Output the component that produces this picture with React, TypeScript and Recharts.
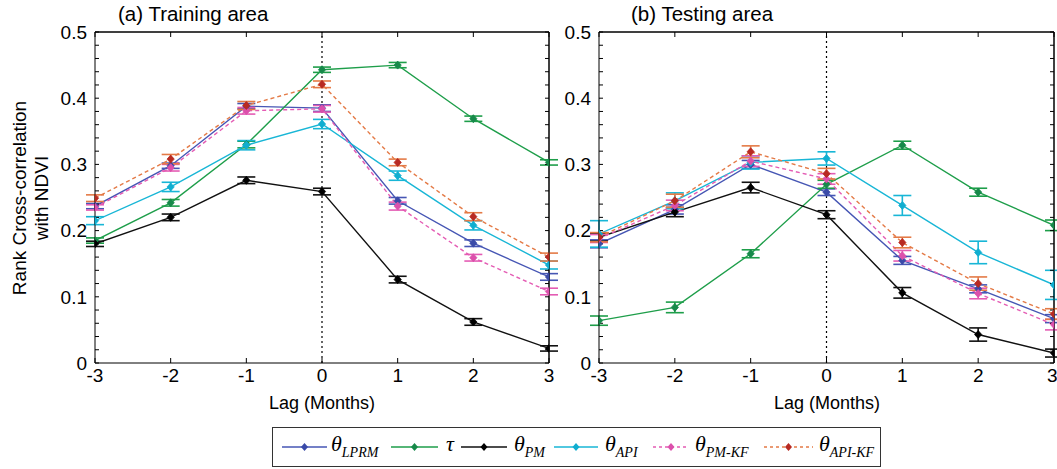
import React from "react";
import { LineChart, Line, XAxis, YAxis, ErrorBar, ReferenceLine } from "recharts";

const lags = [-3, -2, -1, 0, 1, 2, 3];
const yMajor = [0, 0.1, 0.2, 0.3, 0.4, 0.5];
const yTicks = Array.from({ length: 26 }, (_, i) => Math.round(i * 2) / 100);

// (a) Training area
const trainLPRM = [0.237, 0.298, 0.388, 0.385, 0.245, 0.181, 0.13];
const trainTau = [0.185, 0.242, 0.33, 0.443, 0.45, 0.369, 0.303];
const trainPM = [0.18, 0.22, 0.276, 0.259, 0.126, 0.062, 0.022];
const trainAPI = [0.215, 0.266, 0.329, 0.361, 0.283, 0.208, 0.148];
const trainPMKF = [0.235, 0.295, 0.381, 0.384, 0.237, 0.159, 0.108];
const trainAPIKF = [0.249, 0.308, 0.389, 0.421, 0.303, 0.221, 0.16];

const trainLPRMErr = [0.004, 0.004, 0.004, 0.005, 0.005, 0.005, 0.005];
const trainTauErr = [0.004, 0.005, 0.005, 0.004, 0.004, 0.004, 0.004];
const trainPMErr = [0.004, 0.005, 0.005, 0.005, 0.005, 0.005, 0.004];
const trainAPIErr = [0.006, 0.007, 0.007, 0.007, 0.007, 0.007, 0.006];
const trainPMKFErr = [0.004, 0.005, 0.005, 0.005, 0.006, 0.005, 0.005];
const trainAPIKFErr = [0.005, 0.007, 0.006, 0.005, 0.005, 0.006, 0.006];

// (b) Testing area
const testLPRM = [0.18, 0.232, 0.3, 0.258, 0.155, 0.112, 0.067];
const testTau = [0.064, 0.084, 0.165, 0.27, 0.329, 0.258, 0.208];
const testPM = [0.19, 0.228, 0.265, 0.224, 0.106, 0.043, 0.015];
const testAPI = [0.195, 0.245, 0.303, 0.309, 0.238, 0.167, 0.118];
const testPMKF = [0.188, 0.238, 0.305, 0.278, 0.162, 0.105, 0.058];
const testAPIKF = [0.19, 0.245, 0.319, 0.286, 0.182, 0.12, 0.074];

const testLPRMErr = [0.006, 0.007, 0.006, 0.005, 0.006, 0.006, 0.006];
const testTauErr = [0.007, 0.008, 0.006, 0.006, 0.006, 0.006, 0.008];
const testPMErr = [0.006, 0.007, 0.008, 0.006, 0.008, 0.01, 0.006];
const testAPIErr = [0.02, 0.012, 0.01, 0.01, 0.015, 0.017, 0.022];
const testPMKFErr = [0.006, 0.008, 0.008, 0.008, 0.008, 0.008, 0.008];
const testAPIKFErr = [0.007, 0.01, 0.009, 0.008, 0.008, 0.01, 0.008];

const SERIES = [
  { key: "lprm", sym: "θ", sub: "LPRM", color: "#4656b4", marker: "#3a4aa8", dash: undefined },
  { key: "tau", sym: "τ", sub: "", color: "#1e9e4a", marker: "#17894a", dash: undefined },
  { key: "pm", sym: "θ", sub: "PM", color: "#111111", marker: "#000000", dash: undefined },
  { key: "api", sym: "θ", sub: "API", color: "#18b6d6", marker: "#10aed0", dash: undefined },
  { key: "pmkf", sym: "θ", sub: "PM-KF", color: "#e45cb4", marker: "#dc50ac", dash: "4 3" },
  { key: "apikf", sym: "θ", sub: "API-KF", color: "#e47a46", marker: "#b82a22", dash: "4 3" },
];

// legend placement inside the box: [line start, line length, label start]
const LEGEND_POS = [
  [9, 45, 58],
  [118, 47, 173],
  [188, 46, 241],
  [281, 44, 332],
  [380, 36, 422],
  [491, 49, 546],
];

function buildRows(vals: Record<string, number[]>, errs: Record<string, number[]>) {
  return lags.map((lag, i) => {
    const row: any = { lag };
    for (const k of Object.keys(vals)) {
      row[k] = vals[k][i];
      row[k + "Err"] = errs[k][i];
    }
    return row;
  });
}

const trainRows = buildRows(
  { lprm: trainLPRM, tau: trainTau, pm: trainPM, api: trainAPI, pmkf: trainPMKF, apikf: trainAPIKF },
  { lprm: trainLPRMErr, tau: trainTauErr, pm: trainPMErr, api: trainAPIErr, pmkf: trainPMKFErr, apikf: trainAPIKFErr }
);
const testRows = buildRows(
  { lprm: testLPRM, tau: testTau, pm: testPM, api: testAPI, pmkf: testPMKF, apikf: testAPIKF },
  { lprm: testLPRMErr, tau: testTauErr, pm: testPMErr, api: testAPIErr, pmkf: testPMKFErr, apikf: testAPIKFErr }
);

const FONT = "'Liberation Sans', Arial, sans-serif";

const fmtY = (v: number) => {
  const hit = yMajor.find((m) => Math.abs(m - v) < 1e-6);
  return hit === undefined ? "" : String(hit);
};

const diamond = (color: string) => (p: any) => {
  const { cx, cy, index } = p;
  if (cx == null || cy == null) return <g key={`e-${index}`} />;
  return (
    <path
      key={`d-${index}`}
      d={`M${cx},${cy - 4}L${cx + 3.6},${cy}L${cx},${cy + 4}L${cx - 3.6},${cy}Z`}
      fill={color}
      stroke={color}
      strokeWidth={0.8}
    />
  );
};

function Panel({ rows, left, width, yWidth, right }: any) {
  return (
    <div style={{ position: "absolute", left, top: 0 }}>
      <LineChart width={width} height={420} data={rows} margin={{ top: 31, right, bottom: 0, left: 0 }}>
        <XAxis
          xAxisId="b"
          dataKey="lag"
          type="number"
          domain={[-3, 3]}
          ticks={lags}
          allowDataOverflow
          height={57}
          tickSize={-5}
          tickMargin={11}
          tick={{ fill: "#000", fontSize: 19 }}
          axisLine={{ stroke: "#000" }}
          tickLine={{ stroke: "#000" }}
        />
        <XAxis
          xAxisId="t"
          dataKey="lag"
          orientation="top"
          type="number"
          domain={[-3, 3]}
          ticks={lags}
          allowDataOverflow
          height={1}
          tickSize={-5}
          tickFormatter={() => ""}
          axisLine={{ stroke: "#000" }}
          tickLine={{ stroke: "#000" }}
        />
        <YAxis
          yAxisId="l"
          type="number"
          domain={[0, 0.5]}
          ticks={yTicks}
          interval={0}
          tickFormatter={fmtY}
          width={yWidth}
          tickSize={-4}
          tickMargin={12}
          tick={{ fill: "#000", fontSize: 19 }}
          axisLine={{ stroke: "#000" }}
          tickLine={{ stroke: "#000" }}
        />
        <YAxis
          yAxisId="r"
          orientation="right"
          type="number"
          domain={[0, 0.5]}
          ticks={yTicks}
          interval={0}
          width={1}
          tickSize={-4}
          tickFormatter={() => ""}
          axisLine={{ stroke: "#000" }}
          tickLine={{ stroke: "#000" }}
        />
        {/* frame edges */}
        <ReferenceLine xAxisId="b" yAxisId="l" y={0.5} stroke="#000" />
        <ReferenceLine xAxisId="b" yAxisId="l" x={3} stroke="#000" />
        <ReferenceLine xAxisId="b" yAxisId="l" x={0} stroke="#000" strokeDasharray="2 3" strokeWidth={1.2} />
        {/* invisible series so the top and right frame axes are drawn */}
        <Line xAxisId="t" yAxisId="r" dataKey="pm" stroke="none" dot={false} activeDot={false} legendType="none" isAnimationActive={false} />
        {SERIES.map((s) => (
          <Line
            key={s.key}
            xAxisId="b"
            yAxisId="l"
            type="linear"
            dataKey={s.key}
            stroke={s.color}
            strokeWidth={1.4}
            strokeDasharray={s.dash}
            dot={diamond(s.marker)}
            activeDot={false}
            isAnimationActive={false}
          >
            <ErrorBar dataKey={s.key + "Err"} width={9} stroke={s.color} strokeWidth={1.6} direction="y" />
          </Line>
        ))}
      </LineChart>
    </div>
  );
}

function LegendEntry({ s, pos }: any) {
  const [x0, len, tx] = pos;
  return (
    <>
      <svg width={len} height={12} style={{ position: "absolute", left: x0, top: 13 }}>
        <line x1={0} y1={6} x2={len} y2={6} stroke={s.color} strokeWidth={1.6} strokeDasharray={s.dash ? "3 3" : undefined} />
        <path d={`M${len / 2},2L${len / 2 + 3.5},6L${len / 2},10L${len / 2 - 3.5},6Z`} fill={s.marker} />
      </svg>
      <span
        style={{
          position: "absolute",
          left: tx,
          top: 3,
          whiteSpace: "nowrap",
          fontFamily: "'Liberation Serif', 'Times New Roman', serif",
          fontStyle: "italic",
          fontSize: 22,
          lineHeight: "26px",
        }}
      >
        {s.sym}
        {s.sub ? <sub style={{ fontSize: 14, verticalAlign: "-6px" }}>{s.sub}</sub> : null}
      </span>
    </>
  );
}

const axisTitle: React.CSSProperties = {
  position: "absolute",
  top: 393,
  width: 200,
  textAlign: "center",
  fontSize: 18,
  color: "#000",
};

export default function App() {
  return (
    <div style={{ position: "absolute", left: 0, top: 0, width: 1057, height: 469, background: "#fff", fontFamily: FONT, overflow: "hidden" }}>
      <Panel rows={trainRows} left={0} width={560} yWidth={95} right={10} />
      <Panel rows={testRows} left={510} width={547} yWidth={89} right={2} />
      <div style={{ position: "absolute", left: 118, top: 2, fontSize: 20.5, color: "#000" }}>(a) Training area</div>
      <div style={{ position: "absolute", left: 631, top: 2, fontSize: 20.5, color: "#000" }}>(b) Testing area</div>
      <div style={{ ...axisTitle, left: 222 }}>Lag (Months)</div>
      <div style={{ ...axisTitle, left: 727 }}>Lag (Months)</div>
      <svg style={{ position: "absolute", left: 0, top: 0 }} width={60} height={420}>
        <text transform="translate(26,198) rotate(-90)" textAnchor="middle" fontSize={19} fill="#000" fontFamily={FONT}>
          Rank Cross-correlation
        </text>
        <text transform="translate(48,198) rotate(-90)" textAnchor="middle" fontSize={19} fill="#000" fontFamily={FONT}>
          with NDVI
        </text>
      </svg>
      <div
        style={{
          position: "absolute",
          left: 272,
          top: 427,
          width: 609,
          height: 40,
          border: "1px solid #333",
          boxSizing: "border-box",
        }}
      >
        {SERIES.map((s, i) => (
          <LegendEntry key={s.key} s={s} pos={LEGEND_POS[i]} />
        ))}
      </div>
    </div>
  );
}
